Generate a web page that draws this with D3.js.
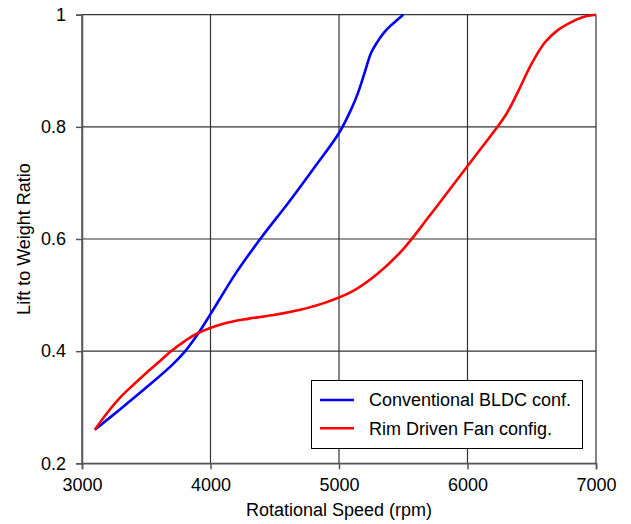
<!DOCTYPE html>
<html>
<head>
<meta charset="utf-8">
<script src="https://cdn.jsdelivr.net/npm/d3@7"></script>
<style>
  body { margin: 0; background: #fff; }
  text { font-family: "Liberation Sans", Arial, sans-serif; fill: #000; }
</style>
</head>
<body>
<div id="chart"></div>
<script>
// values
var bldcRpm  = [3100, 3300, 3500, 3700, 3800, 3900, 4000, 4200, 4400, 4600, 4800, 5000, 5100, 5150, 5200, 5250, 5300, 5350, 5400, 5450, 5500];
var bldcLift = [0.26, 0.297, 0.335, 0.375, 0.399, 0.43, 0.466, 0.54, 0.604, 0.663, 0.725, 0.789, 0.834, 0.862, 0.897, 0.932, 0.952, 0.968, 0.98, 0.99, 1.0];

var rimRpm  = [3100, 3200, 3300, 3400, 3500, 3600, 3700, 3800, 3900, 4100, 4300, 4500, 4700, 4900, 5100, 5300, 5500, 5700, 5900, 6100, 6300, 6400, 6500, 6600, 6700, 6800, 6900, 7000];
var rimLift = [0.26, 0.291, 0.318, 0.34, 0.361, 0.381, 0.401, 0.418, 0.432, 0.449, 0.458, 0.465, 0.474, 0.487, 0.506, 0.538, 0.582, 0.64, 0.7, 0.76, 0.822, 0.866, 0.913, 0.95, 0.972, 0.986, 0.996, 1.0];

var xTicks = [3000, 4000, 5000, 6000, 7000];
var yTicks = [0.2, 0.4, 0.6, 0.8, 1];
var seriesNames = ["Conventional BLDC conf.", "Rim Driven Fan config."];
var seriesColors = ["#0000ff", "#ff0000"];

var width = 631, height = 524;
var margin = {left: 82, right: 35, top: 14.7, bottom: 60.7};

var svg = d3.select("#chart").append("svg")
    .attr("width", width)
    .attr("height", height);

var x = d3.scaleLinear().domain([3000, 7000]).range([margin.left, width - margin.right]);
var y = d3.scaleLinear().domain([0.2, 1]).range([height - margin.bottom, margin.top]);

// grid
svg.append("g").selectAll("line.v")
    .data(xTicks)
    .enter().append("line")
    .attr("x1", function(d){ return x(d); })
    .attr("x2", function(d){ return x(d); })
    .attr("y1", y(1))
    .attr("y2", y(0.2))
    .attr("stroke", "#333")
    .attr("stroke-width", 1.2);

svg.append("g").selectAll("line.h")
    .data(yTicks)
    .enter().append("line")
    .attr("x1", x(3000))
    .attr("x2", x(7000))
    .attr("y1", function(d){ return y(d); })
    .attr("y2", function(d){ return y(d); })
    .attr("stroke", "#333")
    .attr("stroke-width", 1.2);

// axes
var xAxis = d3.axisBottom(x).tickValues(xTicks).tickSize(6).tickPadding(9).tickFormat(d3.format("d"));
var yAxis = d3.axisLeft(y).tickValues(yTicks).tickSize(6).tickPadding(10).tickFormat(function(d){ return d === 1 ? "1" : d3.format(".1f")(d); });

var gx = svg.append("g").attr("transform", "translate(0," + y(0.2) + ")").call(xAxis);
var gy = svg.append("g").attr("transform", "translate(" + x(3000) + ",0)").call(yAxis);

[gx, gy].forEach(function(g){
    g.select(".domain").attr("stroke", "#555").attr("stroke-width", 1.5);
    g.selectAll(".tick line").attr("stroke", "#555").attr("stroke-width", 1.5);
    g.selectAll(".tick text")
        .style("font-family", "'Liberation Sans', Arial, sans-serif")
        .style("font-size", "18px")
        .attr("fill", "#000");
});

// axis titles
svg.append("text")
    .attr("x", x(5000))
    .attr("y", 516)
    .attr("text-anchor", "middle")
    .style("font-size", "18px")
    .text("Rotational Speed (rpm)");

svg.append("text")
    .attr("transform", "translate(30," + y(0.6) + ") rotate(-90)")
    .attr("text-anchor", "middle")
    .style("font-size", "18px")
    .text("Lift to Weight Ratio");

// curves
var line = d3.line()
    .x(function(d){ return x(d[0]); })
    .y(function(d){ return y(d[1]); })
    .curve(d3.curveCatmullRom.alpha(0.5));

var series = [
    d3.zip(bldcRpm, bldcLift),
    d3.zip(rimRpm, rimLift)
];

svg.append("g").selectAll("path")
    .data(series)
    .enter().append("path")
    .attr("d", line)
    .attr("fill", "none")
    .attr("stroke", function(d, i){ return seriesColors[i]; })
    .attr("stroke-width", 2.6);

// legend
var legend = svg.append("g");
legend.append("rect")
    .attr("x", 311.5)
    .attr("y", 380.5)
    .attr("width", 271)
    .attr("height", 68)
    .attr("fill", "#fff")
    .attr("stroke", "#000")
    .attr("stroke-width", 1);

var items = legend.selectAll("g.item")
    .data(seriesNames)
    .enter().append("g")
    .attr("transform", function(d, i){ return "translate(0," + (400 + i * 28.3) + ")"; });

items.append("line")
    .attr("x1", 320)
    .attr("x2", 354)
    .attr("stroke", function(d, i){ return seriesColors[i]; })
    .attr("stroke-width", 2.6);

items.append("text")
    .attr("x", 369)
    .attr("dy", "0.35em")
    .style("font-size", "18px")
    .text(function(d){ return d; });
</script>
</body>
</html>
